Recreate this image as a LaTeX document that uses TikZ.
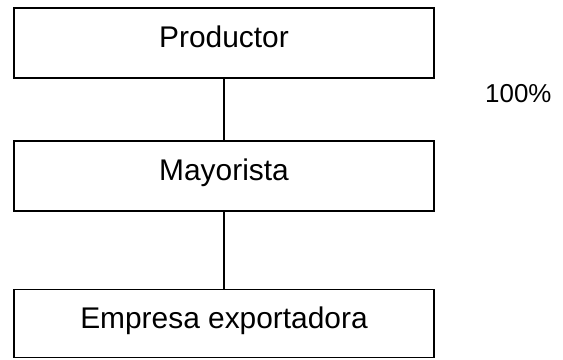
\documentclass[tikz,border=0pt]{standalone}
\usepackage{fontspec}
\setmainfont{Liberation Sans}
\begin{document}
\begin{tikzpicture}[x=1bp,y=-1bp,
  box/.style={draw,line width=1.4bp,minimum width=420bp,minimum height=70bp,inner sep=0pt,
    text height=21bp,text depth=12bp,font=\fontsize{30}{33}\selectfont},
  conn/.style={line width=1.4bp}]
\useasboundingbox (0,0) rectangle (563,359);
\node[box] (p) at (224,43) {Productor};
\node[box] (m) at (224,176) {Mayorista};
\node[box,minimum height=68bp] (e) at (224,323.5) {Empresa exportadora};
\node[font=\fontsize{26}{30}\selectfont,anchor=base west,inner sep=0pt] (pct) at (485,102) {100\%};
\draw[conn] (p.south) -- (m.north);
\draw[conn] (m.south) -- (e.north);
\end{tikzpicture}
\end{document}
